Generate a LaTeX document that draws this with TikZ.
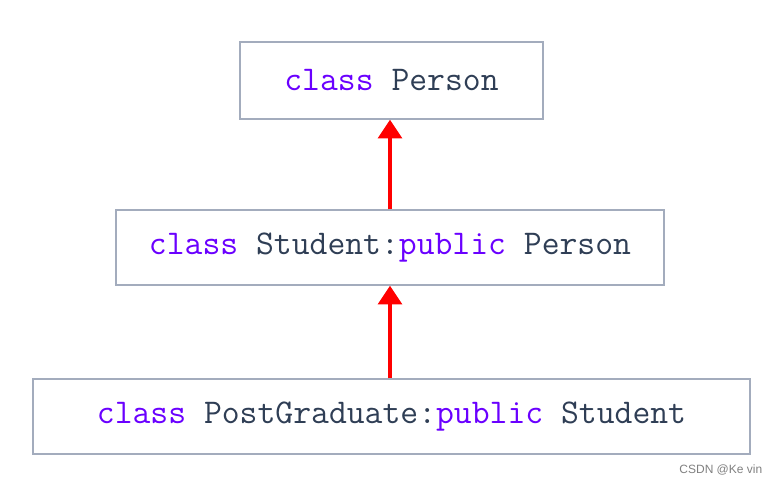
\documentclass[tikz,border=0pt]{standalone}
\usepackage{fontspec}
\setsansfont{Liberation Sans}
\usetikzlibrary{arrows.meta}
\definecolor{boxline}{HTML}{A3ACBD}
\definecolor{kwcol}{HTML}{6A00FF}
\definecolor{txtcol}{HTML}{2F3E55}
\newcommand{\kwd}[1]{\textcolor{kwcol}{#1}}

\begin{document}
\begin{tikzpicture}[x=0.75pt,y=-0.75pt,
    cls/.style={draw=boxline,line width=1.1pt,inner sep=0pt,text=txtcol,
      font=\ttfamily\fontsize{26}{28}\selectfont},
    inh/.style={-{Triangle[length=14pt,width=18pt]},red,line width=2.4pt}]
  \useasboundingbox (0,0) rectangle (783,486);
  \node[cls,minimum width=227.25pt,minimum height=57.75pt] (person) at (391.5,80.5) {\kwd{class} Person};
  \node[cls,minimum width=411pt,minimum height=56.25pt] (student) at (390,247.5) {\kwd{class} Student:\kwd{public} Person};
  \node[cls,minimum width=537.75pt,minimum height=56.25pt] (grad) at (391.5,416.5) {\kwd{class} PostGraduate:\kwd{public} Student};
  \draw[inh] (student.north) -- (student.north |- person.south);
  \draw[inh] (grad.north -| student.north) -- (student.south);
  \node[anchor=east,text=gray,font=\sffamily\fontsize{9}{10}\selectfont] (mark) at (767,470) {CSDN @Ke vin};
\end{tikzpicture}
\end{document}
